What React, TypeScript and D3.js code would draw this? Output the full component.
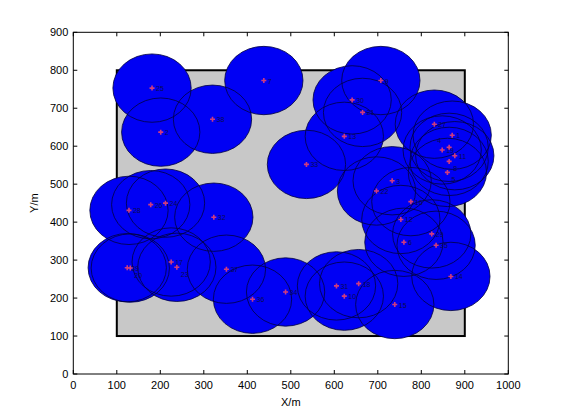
import React from 'react';
import * as d3 from 'd3';

// node centres (metres)
const nodeX = [181, 201, 320, 438, 707, 641, 665, 623, 536, 830, 871, 848, 864, 877, 864, 860, 733, 697, 776, 753, 824, 760, 834, 868, 605, 656, 623, 739, 488, 412, 352, 225, 238, 124, 131, 128, 178, 212, 323];
const nodeY = [753, 637, 671, 773, 773, 722, 689, 626, 552, 658, 629, 590, 597, 575, 560, 531, 509, 482, 454, 407, 369, 347, 339, 257, 232, 238, 205, 183, 216, 197, 276, 295, 281, 280, 279, 431, 446, 450, 413];
const nodeLabels = ['25', '2', '38', '7', '9', '30', '21', '13', '33', '27', '1', '19', '4', '11', '8', '5', '3', '22', '16', '12', '29', '6', '35', '14', '31', '18', '10', '15', '34', '36', '37', '17', '23', '39', '20', '28', '26', '24', '32'];
const RADIUS = 90;

// monitored region
const regionX = [100, 900];
const regionY = [100, 800];

const xTicks = [0, 100, 200, 300, 400, 500, 600, 700, 800, 900, 1000];
const yTicks = [0, 100, 200, 300, 400, 500, 600, 700, 800, 900];

export default function App() {
  const W = 561, H = 420;
  const left = 73.3, right = 508.3, top = 32.3, bottom = 374;
  const x = d3.scaleLinear().domain([0, 1000]).range([left, right]);
  const y = d3.scaleLinear().domain([0, 900]).range([bottom, top]);
  const rx = x(RADIUS) - x(0);
  const ry = y(0) - y(RADIUS);
  const nodes = nodeX.map((v, i) => ({ x: v, y: nodeY[i], label: nodeLabels[i] }));
  const font = 'Liberation Sans, Arial, sans-serif';
  const tick = 4;

  // spread labels that would sit on top of each other
  const placed: { x: number; y: number }[] = [];
  const labelPos = nodes.map(d => {
    const px = x(d.x), py = y(d.y);
    const tries = [[4, 3], [4, 10], [-12, 3], [4, -4], [-12, 10], [-12, -4]];
    for (const [dx, dy] of tries) {
      const lx = px + dx, ly = py + dy;
      if (placed.every(p => Math.abs(p.x - lx) > 10 || Math.abs(p.y - ly) > 7)) {
        placed.push({ x: lx, y: ly });
        return [dx, dy];
      }
    }
    placed.push({ x: px + 4, y: py + 3 });
    return [4, 3];
  });

  return (
    <svg width={W} height={H} style={{ position: 'absolute', left: 0, top: 0, background: '#fff' }}>
      <rect
        x={x(regionX[0])}
        y={y(regionY[1])}
        width={x(regionX[1]) - x(regionX[0])}
        height={y(regionY[0]) - y(regionY[1])}
        fill="#c8c8c8"
        stroke="#000"
        strokeWidth={2}
      />
      {/* coverage discs, fills first then the outlines */}
      {nodes.map((d, i) => (
        <ellipse key={'f' + i} cx={x(d.x)} cy={y(d.y)} rx={rx} ry={ry} fill="#0000f4" />
      ))}
      {nodes.map((d, i) => (
        <ellipse key={'s' + i} cx={x(d.x)} cy={y(d.y)} rx={rx} ry={ry} fill="none" stroke="#000040" strokeOpacity={0.8} strokeWidth={1} />
      ))}
      {nodes.map((d, i) => (
        <g key={'m' + i} transform={`translate(${x(d.x)},${y(d.y)})`}>
          <path d="M-2.5,0H2.5M0,-2.5V2.5" stroke="#d03c7c" strokeWidth={1.6} />
          <text x={labelPos[i][0]} y={labelPos[i][1]} fontSize={7} fontFamily={font} fill="#0a0a50">{d.label}</text>
        </g>
      ))}
      {/* axes box */}
      <rect x={left} y={top} width={right - left} height={bottom - top} fill="none" stroke="#000" strokeWidth={1} />
      {xTicks.map(t => (
        <g key={'xt' + t}>
          <line x1={x(t)} x2={x(t)} y1={bottom} y2={bottom - tick} stroke="#000" />
          <line x1={x(t)} x2={x(t)} y1={top} y2={top + tick} stroke="#000" />
          <text x={x(t)} y={bottom + 15} textAnchor="middle" fontSize={11} fontFamily={font}>{t}</text>
        </g>
      ))}
      {yTicks.map(t => (
        <g key={'yt' + t}>
          <line x1={left} x2={left + tick} y1={y(t)} y2={y(t)} stroke="#000" />
          <line x1={right} x2={right - tick} y1={y(t)} y2={y(t)} stroke="#000" />
          <text x={left - 5} y={y(t) + 4} textAnchor="end" fontSize={11} fontFamily={font}>{t}</text>
        </g>
      ))}
      <text x={(left + right) / 2} y={406} textAnchor="middle" fontSize={11} fontFamily={font}>X/m</text>
      <text transform={`translate(38,${(top + bottom) / 2}) rotate(-90)`} textAnchor="middle" fontSize={11} fontFamily={font}>Y/m</text>
    </svg>
  );
}
